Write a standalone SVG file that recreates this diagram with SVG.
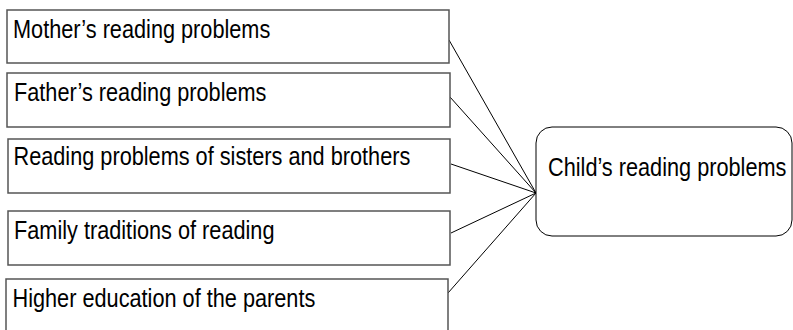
<svg xmlns="http://www.w3.org/2000/svg" width="793" height="330" viewBox="0 0 793 330">
<style>
.box{fill:#fff;stroke:#555;stroke-width:1.5}
.rbox{fill:#fff;stroke:#000;stroke-width:1}
.t{font-family:"Liberation Sans",Arial,sans-serif;font-size:26px;fill:#000}
.c{stroke:#000;stroke-width:1;fill:none}
</style>
<rect width="793" height="330" fill="#fff"/>
<g id="connectors">
<line class="c" x1="449" y1="40" x2="536" y2="193"/>
<line class="c" x1="450" y1="97" x2="536" y2="193"/>
<line class="c" x1="451" y1="164" x2="536" y2="193"/>
<line class="c" x1="451" y1="233" x2="536" y2="193"/>
<line class="c" x1="448" y1="293" x2="536" y2="193"/>
</g>
<g id="n1"><rect class="box" x="7" y="10" width="442" height="53"/><text class="t" transform="translate(13 37.5) scale(0.835 1)">Mother’s reading problems</text></g>
<g id="n2"><rect class="box" x="7" y="73" width="443" height="54"/><text class="t" transform="translate(14 100.5) scale(0.835 1)">Father’s reading problems</text></g>
<g id="n3"><rect class="box" x="8" y="139" width="442" height="54"/><text class="t" transform="translate(13.5 165) scale(0.835 1)">Reading problems of sisters and brothers</text></g>
<g id="n4"><rect class="box" x="8" y="211" width="442" height="54"/><text class="t" transform="translate(14 238.5) scale(0.835 1)">Family traditions of reading</text></g>
<g id="n5"><rect class="box" x="6" y="279" width="442" height="70"/><text class="t" transform="translate(12.5 307) scale(0.835 1)">Higher education of the parents</text></g>
<g id="child"><rect class="rbox" x="536" y="127" width="256" height="109" rx="16"/><text class="t" transform="translate(548 176) scale(0.835 1)">Child’s reading problems</text></g>
</svg>
